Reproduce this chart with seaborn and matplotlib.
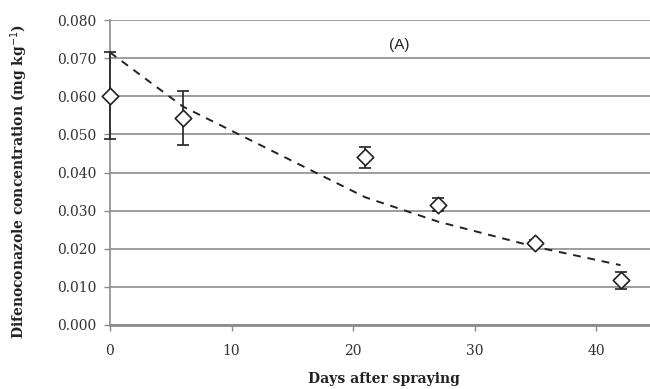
import matplotlib
matplotlib.use("Agg")
import matplotlib.pyplot as plt
import seaborn as sns
import pandas as pd

days = [0, 6, 21, 27, 35, 42]
conc = [0.0601, 0.0544, 0.0440, 0.0316, 0.0216, 0.0117]
err = [0.0114, 0.0071, 0.0028, 0.0017, 0.0008, 0.0022]
fit = [0.0715, 0.0573, 0.0335, 0.0271, 0.0205, 0.0157]
yticks = [0.0, 0.01, 0.02, 0.03, 0.04, 0.05, 0.06, 0.07, 0.08]
xticks = [0, 10, 20, 30, 40]

df = pd.DataFrame({"days": days, "conc": conc, "err": err, "fit": fit})

sns.set_style("white")
plt.rcParams["font.family"] = ["DejaVu Serif"]

fig = plt.figure(figsize=(6.5, 3.89), dpi=100)
ax = fig.add_axes([110/650, 1-325/389, 547/650, 305/389])

for yv in yticks:
    ax.axhline(yv, color="#8c8c8c", lw=1.2, zorder=0)

sns.lineplot(data=df, x="days", y="fit", ax=ax, color="#222222", lw=1.4,
             linestyle=(0, (4, 3.5)), zorder=2)
eb = ax.errorbar(df["days"], df["conc"], yerr=df["err"], fmt="none", ecolor="#222222",
                 elinewidth=1.2, capsize=4, capthick=1.2, zorder=3)
for art in eb.lines[1] + eb.lines[2]:
    art.set_clip_on(False)
sns.scatterplot(data=df, x="days", y="conc", ax=ax, marker="D", s=70,
                facecolor="white", edgecolor="#222222", linewidth=1.2, zorder=4,
                clip_on=False)

ax.set_xlim(0, 45)
ax.set_ylim(0, 0.08)
ax.set_xticks(xticks)
ax.set_yticks(yticks)
ax.set_yticklabels([f"{v:.3f}" for v in yticks])
ax.tick_params(axis="both", labelsize=10, colors="#8c8c8c", labelcolor="#333333",
               length=4, width=1, direction="out", bottom=True, left=True)
ax.tick_params(axis="x", pad=10)
ax.tick_params(axis="y", pad=6)
for s in ["top", "right"]:
    ax.spines[s].set_visible(False)
ax.spines["left"].set_color("#8c8c8c")
ax.spines["left"].set_linewidth(1.2)
ax.spines["bottom"].set_color("#8c8c8c")
ax.spines["bottom"].set_linewidth(2)

ax.set_xlabel("Days after spraying", fontsize=10, fontweight="bold", color="#222222")
ax.set_ylabel("Difenoconazole concentration (mg kg$^{-1}$)", fontsize=10,
              fontweight="bold", color="#222222")
ax.xaxis.set_label_coords(0.5, (325 - 379) / 305)
ax.xaxis.label.set_va("center")
ax.yaxis.set_label_coords((19 - 110) / 547, (325 - 181) / 305)
ax.yaxis.label.set_va("center")
ax.text(23.8, 0.0735, "(A)", fontsize=11, family="Liberation Sans",
        ha="center", va="center", color="#222222")

fig.savefig("out.png", dpi=100)
